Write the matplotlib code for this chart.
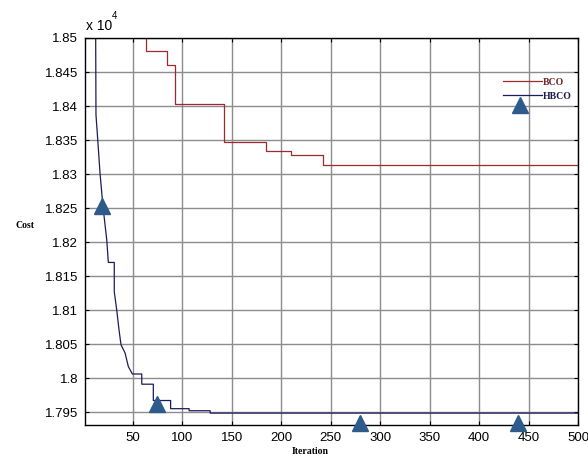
import matplotlib
matplotlib.use("Agg")
import matplotlib.pyplot as plt

plt.rcParams["font.family"] = ["Liberation Sans", "DejaVu Sans"]

# BCO curve (cost in units)
bco_iter = [55, 63, 84, 92, 142, 184, 210, 242, 500]
bco_cost = [18600, 18481, 18460, 18403, 18347.5, 18334, 18328, 18314, 18314]

# HBCO curve
hbco_iter = [12.0, 12.2, 12.5, 14.3, 16.6, 19.6, 23.4, 25, 31, 31, 33.5, 35.8,
             37.8, 41.9, 45.2, 49.3, 58.8, 58.8, 70.5, 70.5, 88, 88, 106.7,
             106.7, 128, 128, 500]
hbco_cost = [18540, 18500, 18387, 18350, 18301, 18252, 18203, 18170, 18170,
             18127, 18100, 18071, 18049, 18037, 18017, 18006, 18006, 17991,
             17991, 17967, 17967, 17955, 17955, 17952, 17952, 17948.5, 17948.5]

# triangle markers drawn over the plot
mark_iter = [18.3, 74, 280, 439.6, 441]
mark_cost = [18253, 17962.6, 17934.2, 17934.2, 18401.5]

xticks = [50, 100, 150, 200, 250, 300, 350, 400, 450, 500]
yticks = [17950, 18000, 18050, 18100, 18150, 18200, 18250, 18300, 18350,
          18400, 18450, 18500]
ytick_labels = ["1.795", "1.8", "1.805", "1.81", "1.815", "1.82", "1.825",
                "1.83", "1.835", "1.84", "1.845", "1.85"]

fig = plt.figure(figsize=(5.88, 4.57), dpi=100)
ax = fig.add_axes([85 / 588, 32 / 457, 493 / 588, 387 / 457])

ax.plot(bco_iter, bco_cost, color="#9e2a2b", lw=0.9, drawstyle="steps-post",
        label="BCO")
ax.plot(hbco_iter, hbco_cost, color="#1c1c5c", lw=0.9, label="HBCO")
ax.plot(mark_iter, mark_cost, ls="none", marker="^", ms=11,
        color="#2e5a8c", clip_on=False, zorder=5)

ax.set_xlim(1.4, 500)
ax.set_ylim(17931, 18500)
ax.set_xticks(xticks)
ax.set_yticks(yticks)
ax.set_yticklabels(ytick_labels)
ax.tick_params(direction="in", length=3, labelsize=9.5, top=True, right=True,
               colors="black", pad=5)
ax.grid(True, color="#8c8c8c", lw=1)
for s in ax.spines.values():
    s.set_linewidth(1)
    s.set_color("black")

leg = ax.legend(frameon=False, loc="upper right", bbox_to_anchor=(0.995, 0.907),
                prop={"family": "Liberation Serif", "size": 7, "weight": "bold"},
                handlelength=4.0, handletextpad=0.1, labelspacing=0.5,
                borderaxespad=0)
for txt, c in zip(leg.get_texts(), ["#6e2a2a", "#1c1c4c"]):
    txt.set_color(c)

fig.text(86 / 588, 1 - 30 / 457, "x 10", fontsize=10, ha="left", va="baseline")
fig.text(112 / 588, 1 - 19 / 457, "4", fontsize=7, ha="left", va="baseline")
fig.text(25 / 588, 1 - 225 / 457, "Cost", family="Liberation Serif",
         fontsize=7, weight="bold", ha="center", va="center")
fig.text(310 / 588, 1 - 452 / 457, "Iteration", family="Liberation Serif",
         fontsize=7, weight="bold", ha="center", va="center")

fig.savefig("out.png", dpi=100)
